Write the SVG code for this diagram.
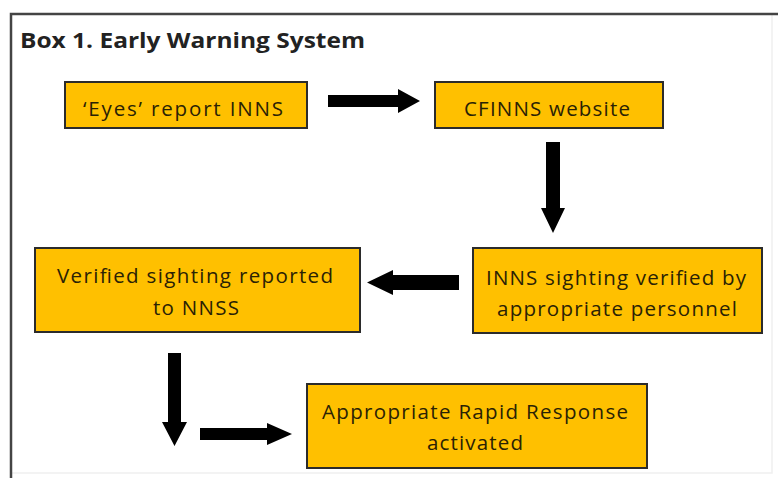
<svg xmlns="http://www.w3.org/2000/svg" width="778" height="478" viewBox="0 0 778 478">
  <style>
    .box { fill: #FFC000; stroke: #2b2b2b; stroke-width: 2; }
    .lbl { font-family: "Open Sans", "Liberation Sans", sans-serif; font-size: 20.5px; fill: #2a2205; text-anchor: middle; }
    .title { font-family: "Open Sans", "Liberation Sans", sans-serif; font-size: 22px; font-weight: bold; fill: #222; }
    .arrow { fill: #000; }
  </style>
  <rect width="778" height="478" fill="#fff"/>

  <!-- outer frame -->
  <g id="frame">
    <path d="M772 15 V473 H11" fill="none" stroke="#f0f0f0" stroke-width="1.5"/>
    <path d="M11 478 V14 H778" fill="none" stroke="#444" stroke-width="2.5"/>
    <text class="title" x="20" y="48" textLength="345" lengthAdjust="spacingAndGlyphs">Box 1. Early Warning System</text>
  </g>

  <g id="eyes">
    <rect class="box" x="65" y="82" width="242" height="46"/>
    <text class="lbl" x="183" y="116" textLength="200" lengthAdjust="spacing">‘Eyes’ report INNS</text>
  </g>

  <g id="cfinns">
    <rect class="box" x="435" y="82" width="228" height="46"/>
    <text class="lbl" x="547" y="116" textLength="166" lengthAdjust="spacing">CFINNS website</text>
  </g>

  <g id="verify">
    <rect class="box" x="473" y="248" width="289" height="85"/>
    <text class="lbl" x="616" y="285" textLength="260" lengthAdjust="spacing">INNS sighting verified by</text>
    <text class="lbl" x="617" y="316" textLength="240" lengthAdjust="spacing">appropriate personnel</text>
  </g>

  <g id="report">
    <rect class="box" x="35" y="248" width="325" height="84"/>
    <text class="lbl" x="195" y="283" textLength="276" lengthAdjust="spacing">Verified sighting reported</text>
    <text class="lbl" x="196" y="315" textLength="86" lengthAdjust="spacing">to NNSS</text>
  </g>

  <g id="response">
    <rect class="box" x="307" y="384" width="340" height="84"/>
    <text class="lbl" x="475" y="419" textLength="306" lengthAdjust="spacing">Appropriate Rapid Response</text>
    <text class="lbl" x="475" y="450" textLength="96" lengthAdjust="spacing">activated</text>
  </g>

  <!-- block arrows -->
  <g id="connectors">
    <polygon class="arrow" points="328,95 398,95 398,89 420,101 398,113 398,107 328,107"/>
    <polygon class="arrow" points="546,142 560,142 560,208 565,208 553,233 541,208 546,208"/>
    <polygon class="arrow" points="459,275 393,275 393,270 367,282.5 393,295 393,290 459,290"/>
    <polygon class="arrow" points="168,353 181,353 181,422 187,422 174.5,446 162,422 168,422"/>
    <polygon class="arrow" points="200,428 267,428 267,423 292,434 267,445 267,440 200,440"/>
  </g>
</svg>
